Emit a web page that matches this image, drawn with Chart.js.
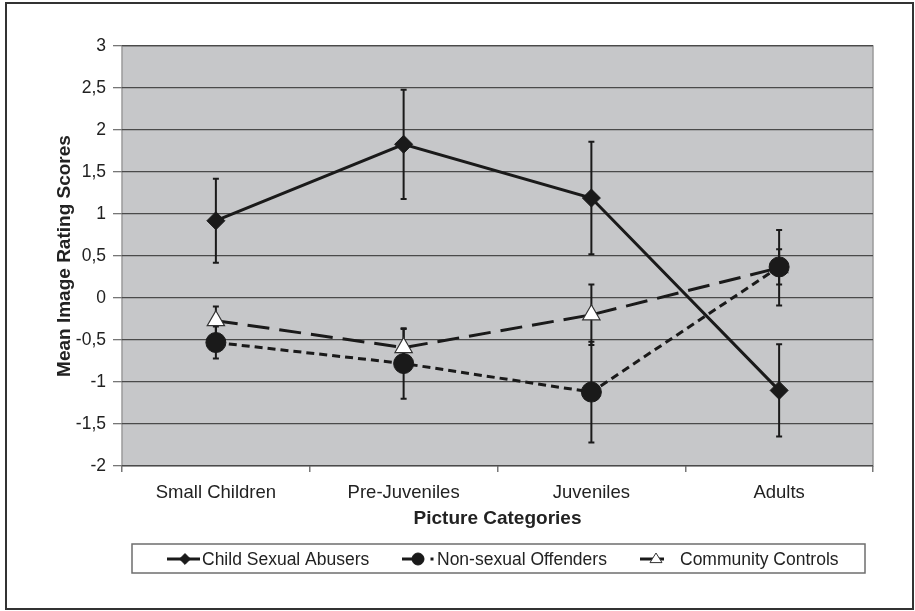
<!DOCTYPE html>
<html>
<head>
<meta charset="utf-8">
<script src="https://cdn.jsdelivr.net/npm/chart.js@4/dist/chart.umd.min.js"></script>
<style>
	html, body { margin: 0; padding: 0; background: #fff; }
	#wrap { width: 915px; height: 611px; position: relative; }
</style>
</head>
<body>
<div id="wrap"><canvas id="chart0" width="915" height="611"></canvas></div>
<script>
// picture categories and tick values
var categories = ["Small Children", "Pre-Juveniles", "Juveniles", "Adults"];
var yTicks = [-2, -1.5, -1, -0.5, 0, 0.5, 1, 1.5, 2, 2.5, 3];

// mean scores and error bar half-widths
var abusers = [0.92, 1.83, 1.19, -1.10];
var abusersErr = [0.50, 0.65, 0.67, 0.55];
var offenders = [-0.53, -0.78, -1.12, 0.37];
var offendersErr = [0.19, 0.42, 0.60, 0.21];
var controls = [-0.27, -0.59, -0.20, 0.36];
var controlsErr = [0.17, 0.22, 0.36, 0.45];

var seriesNames = ["Child Sexual Abusers", "Non-sexual Offenders", "Community Controls"];
var FONT = "'Liberation Sans', Arial, sans-serif";
var INK = "#1a1a1a";

// grey plot background + outer frame
var backdrop = {
	id: "backdrop",
	beforeDraw(chart) {
		var c = chart.ctx, a = chart.chartArea;
		c.save();
		c.fillStyle = "#fff";
		c.fillRect(0, 0, chart.width, chart.height);
		c.strokeStyle = "#333";
		c.lineWidth = 2;
		c.strokeRect(6, 3, 907, 606);
		c.fillStyle = "#c6c7c9";
		c.fillRect(a.left, a.top, a.right - a.left, a.bottom - a.top);
		c.strokeStyle = "#9a9a9a";
		c.lineWidth = 1.5;
		c.strokeRect(a.left, a.top, a.right - a.left, a.bottom - a.top);
		c.restore();
	}
};

// vertical error bars with caps
var errorBars = {
	id: "errorBars",
	beforeDatasetsDraw(chart) {
		var c = chart.ctx, y = chart.scales.y;
		var errs = [abusersErr, offendersErr, controlsErr];
		c.save();
		c.strokeStyle = INK;
		c.lineWidth = 2;
		chart.data.datasets.forEach(function(ds, i) {
			var meta = chart.getDatasetMeta(i);
			meta.data.forEach(function(pt, j) {
				var top = y.getPixelForValue(ds.data[j] + errs[i][j]);
				var bot = y.getPixelForValue(ds.data[j] - errs[i][j]);
				c.beginPath();
				c.moveTo(pt.x, top); c.lineTo(pt.x, bot);
				c.moveTo(pt.x - 3, top); c.lineTo(pt.x + 3, top);
				c.moveTo(pt.x - 3, bot); c.lineTo(pt.x + 3, bot);
				c.stroke();
			});
		});
		c.restore();
	}
};

// boxed legend under the chart
var boxLegend = {
	id: "boxLegend",
	afterDraw(chart) {
		var c = chart.ctx;
		var items = [
			{x1: 167, x2: 200, mx: 185, tx: 202},
			{x1: 402, x2: 424, mx: 418, tx: 437, dot: 432},
			{x1: 640, x2: 664, mx: 656, tx: 680}
		];
		var ly = 559;
		c.save();
		c.strokeStyle = "#6e6e6e";
		c.lineWidth = 1.5;
		c.strokeRect(132, 544, 733, 29);
		chart.data.datasets.forEach(function(ds, i) {
			var it = items[i];
			c.strokeStyle = INK;
			c.lineWidth = 3;
			c.beginPath(); c.moveTo(it.x1, ly); c.lineTo(it.x2, ly); c.stroke();
			if (it.dot) { c.fillStyle = INK; c.fillRect(it.dot - 1.5, ly - 1.5, 3, 3); }
			c.fillStyle = ds.pointBackgroundColor;
			c.strokeStyle = ds.pointBorderColor;
			c.lineWidth = 1;
			c.beginPath();
			var r = ds.pointRadius * 0.6;
			if (ds.pointStyle === "circle") c.arc(it.mx, ly, r, 0, Math.PI * 2);
			else if (ds.pointStyle === "rectRot") { c.moveTo(it.mx, ly - r); c.lineTo(it.mx + r, ly); c.lineTo(it.mx, ly + r); c.lineTo(it.mx - r, ly); c.closePath(); }
			else { c.moveTo(it.mx, ly - r); c.lineTo(it.mx + r, ly + r * 0.6); c.lineTo(it.mx - r, ly + r * 0.6); c.closePath(); }
			c.fill(); c.stroke();
			c.fillStyle = "#222";
			c.font = "17.5px " + FONT;
			c.textBaseline = "middle";
			c.fillText(seriesNames[i], it.tx, ly + 1);
		});
		c.restore();
	}
};

new Chart("chart0", {
	type: "line",
	data: {
		labels: categories,
		datasets: [
			{
				label: seriesNames[0], data: abusers,
				borderColor: INK, borderWidth: 3, fill: false,
				pointStyle: "rectRot", pointRadius: 9,
				pointBackgroundColor: INK, pointBorderColor: INK, pointBorderWidth: 1
			},
			{
				label: seriesNames[1], data: offenders,
				borderColor: INK, borderWidth: 3, borderDash: [8, 5], fill: false,
				pointStyle: "circle", pointRadius: 10,
				pointBackgroundColor: INK, pointBorderColor: INK, pointBorderWidth: 1
			},
			{
				label: seriesNames[2], data: controls,
				borderColor: INK, borderWidth: 3, borderDash: [22, 10], fill: false,
				pointStyle: "triangle", pointRadius: 10,
				pointBackgroundColor: "#fff", pointBorderColor: "#333", pointBorderWidth: 1.2
			}
		]
	},
	options: {
		responsive: false,
		animation: false,
		layout: { padding: { left: 53, right: 42, top: 46, bottom: 81 } },
		plugins: { legend: { display: false }, tooltip: { enabled: false } },
		scales: {
			x: {
				offset: true,
				afterFit(s) { s.height = 64; },
				grid: { offset: true, drawOnChartArea: false, drawTicks: true, tickLength: 6, color: "#777", lineWidth: 1.5 },
				border: { display: false },
				ticks: { color: "#222", padding: 10, font: { family: FONT, size: 18.5 } },
				title: { display: true, text: "Picture Categories", color: "#222", padding: 0, font: { family: FONT, size: 19, weight: "bold" } }
			},
			y: {
				min: yTicks[0], max: yTicks[yTicks.length - 1],
				afterFit(s) { s.width = 69; },
				afterBuildTicks(s) { s.ticks = yTicks.map(function(v) { return {value: v}; }); },
				grid: { color: "#4a4a4a", lineWidth: 1.3, tickLength: 9, tickColor: "#777" },
				border: { display: false },
				ticks: {
					color: "#222", padding: 7, font: { family: FONT, size: 17.5 },
					callback: function(v) { return String(v).replace(".", ","); }
				},
				title: { display: true, text: "Mean Image Rating Scores", color: "#222", padding: 0, font: { family: FONT, size: 19, weight: "bold" } }
			}
		}
	},
	plugins: [backdrop, errorBars, boxLegend]
});
</script>
</body>
</html>
